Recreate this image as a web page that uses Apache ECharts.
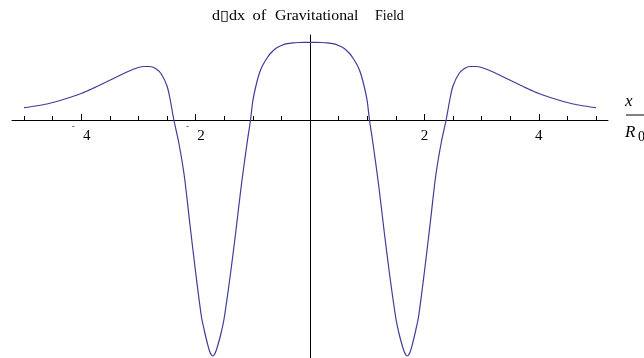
<!DOCTYPE html>
<html>
<head>
<meta charset="utf-8">
<script src="https://cdn.jsdelivr.net/npm/echarts@6/dist/echarts.min.js"></script>
<style>
  html, body { margin: 0; padding: 0; background: #ffffff; }
  #chart { width: 644px; height: 358px; }
</style>
</head>
<body>
<div id="chart"></div>
<script>
// Position x / R0 sampled across the plotted range
const xValues = [
  -5.0, -4.8, -4.6, -4.4, -4.2, -4.0, -3.8, -3.6, -3.4, -3.2, -3.0, -2.9, -2.8, -2.7, -2.6, -2.5, -2.45, -2.38,
  -2.3, -2.2, -2.1, -2.0, -1.9, -1.85, -1.8, -1.75, -1.7, -1.65, -1.6, -1.55, -1.5, -1.4, -1.3, -1.2, -1.1, -1.04,
  -1.0, -0.95, -0.9, -0.85, -0.8, -0.75, -0.7, -0.6, -0.5, -0.4, -0.3, -0.2, -0.1,
  0.0,
  0.1, 0.2, 0.3, 0.4, 0.5, 0.6, 0.7, 0.75, 0.8, 0.85, 0.9, 0.95, 1.0,
  1.04, 1.1, 1.2, 1.3, 1.4, 1.5, 1.55, 1.6, 1.65, 1.7, 1.75, 1.8, 1.85, 1.9, 2.0, 2.1, 2.2, 2.3,
  2.38, 2.45, 2.5, 2.6, 2.7, 2.8, 2.9, 3.0, 3.2, 3.4, 3.6, 3.8, 4.0, 4.2, 4.4, 4.6, 4.8, 5.0
];

// d/dx of the field at each position
const yValues = [
  0.123, 0.14, 0.16, 0.19, 0.225, 0.265, 0.315, 0.37, 0.425, 0.48, 0.525, 0.535, 0.535, 0.515, 0.46, 0.34, 0.22, 0.0,
  -0.21, -0.55, -1.04, -1.52, -1.96, -2.10, -2.22, -2.32, -2.36, -2.32, -2.23, -2.12, -1.98, -1.58, -1.13, -0.65, -0.23, 0.0,
  0.19, 0.33, 0.44, 0.52, 0.575, 0.62, 0.66, 0.715, 0.745, 0.763, 0.771, 0.775, 0.776,
  0.776,
  0.776, 0.775, 0.771, 0.763, 0.745, 0.715, 0.66, 0.62, 0.575, 0.52, 0.44, 0.33, 0.19,
  0.0, -0.23, -0.65, -1.13, -1.58, -1.98, -2.12, -2.23, -2.32, -2.36, -2.32, -2.22, -2.10, -1.96, -1.52, -1.04, -0.55, -0.21,
  0.0, 0.22, 0.34, 0.46, 0.515, 0.535, 0.535, 0.525, 0.48, 0.425, 0.37, 0.315, 0.265, 0.225, 0.19, 0.16, 0.14, 0.123
];

// Labelled (long) ticks and the short half-step ticks
const labelTicks = [-4, -2, 2, 4];
const minorTicks = [-5, -4.5, -3.5, -3, -2.5, -1.5, -1, -0.5, 0.5, 1, 1.5, 2.5, 3, 3.5, 4.5, 5];

// Title words
const titleWords = ['d\u25AFdx', 'of', 'Gravitational', 'Field'];

const serif = '"Liberation Serif", "DejaVu Serif", serif';
const curveColor = '#3d3d99';
const axisBlack = { color: '#000', width: 1 };

const W = 644, H = 358;
const xRange = { min: -5.21, max: 5.21 };
const yRange = { min: -2.38, max: 0.85 };
const plot = { left: 12, right: 36, top: 35, bottom: 0 };

// Pixel row of y = 0 inside the plot, so the tick-label strip can sit right under the axis
const plotHeight = H - plot.top - plot.bottom;
const zeroRow = plot.top + plotHeight * yRange.max / (yRange.max - yRange.min);

const points = xValues.map((x, i) => [x, yValues[i]]);

const chart = echarts.init(document.getElementById('chart'), null, { renderer: 'canvas' });

const plotGrid = Object.assign({ outerBoundsMode: 'none' }, plot);
const labelGrid = { left: plot.left, right: plot.right, top: plot.top, bottom: H - zeroRow, outerBoundsMode: 'none' };

const hiddenY = (gridIndex, range) => ({
  type: 'value', gridIndex, min: range.min, max: range.max,
  axisLine: { show: false, onZero: true }, axisTick: { show: false },
  axisLabel: { show: false }, splitLine: { show: false }
});

chart.setOption({
  animation: false,
  backgroundColor: '#ffffff',
  grid: [plotGrid, Object.assign({}, plotGrid), labelGrid],
  xAxis: [
    {
      // axis line with the long ticks, drawn through y = 0
      type: 'value', gridIndex: 0, position: 'bottom',
      min: xRange.min, max: xRange.max,
      axisLine: { show: true, onZero: true, lineStyle: axisBlack },
      axisTick: { show: true, inside: true, length: 6, customValues: labelTicks, lineStyle: axisBlack },
      axisLabel: { show: false },
      splitLine: { show: false }
    },
    {
      // short half-step ticks
      type: 'value', gridIndex: 1, position: 'bottom',
      min: xRange.min, max: xRange.max,
      axisLine: { show: false, onZero: true },
      axisTick: { show: true, inside: true, length: 4, customValues: minorTicks, lineStyle: axisBlack },
      axisLabel: { show: false },
      splitLine: { show: false }
    },
    {
      // tick labels just below the axis
      type: 'value', gridIndex: 2, position: 'bottom',
      min: xRange.min, max: xRange.max,
      axisLine: { show: false, onZero: false },
      axisTick: { show: false },
      axisLabel: {
        show: true,
        customValues: labelTicks,
        margin: 3,
        formatter: v => (v < 0 ? '{m|-}{d|' + Math.abs(v) + '}' : '{d|' + v + '}'),
        rich: {
          d: { fontFamily: serif, fontSize: 15, color: '#000', lineHeight: 26 },
          m: { fontFamily: serif, fontSize: 8, color: '#000', lineHeight: 6, width: 11, align: 'left', verticalAlign: 'top' }
        }
      },
      splitLine: { show: false }
    }
  ],
  yAxis: [
    {
      type: 'value', gridIndex: 0,
      min: yRange.min, max: yRange.max,
      axisLine: { show: true, onZero: true, lineStyle: axisBlack },
      axisTick: { show: false },
      axisLabel: { show: false },
      splitLine: { show: false }
    },
    hiddenY(1, yRange),
    hiddenY(2, { min: 0, max: 1 })
  ],
  series: [{
    type: 'line',
    xAxisIndex: 0, yAxisIndex: 0,
    data: points,
    smooth: 0.3,
    showSymbol: false,
    lineStyle: { color: curveColor, width: 1.2 }
  }],
  graphic: [
    {
      type: 'group',
      left: 212, top: 9,
      children: [
        { type: 'text', x: 0, y: 0, scaleX: 1.15, style: { text: titleWords[0], font: '14px ' + serif, fill: '#000' } },
        { type: 'text', x: 40.5, y: 0, scaleX: 1.18, style: { text: titleWords[1], font: '14px ' + serif, fill: '#000' } },
        { type: 'text', x: 63, y: 0, scaleX: 1.13, style: { text: titleWords[2], font: '14px ' + serif, fill: '#000' } },
        { type: 'text', x: 163, y: 0, scaleX: 1.0, style: { text: titleWords[3], font: '14px ' + serif, fill: '#000' } }
      ]
    },
    {
      type: 'group',
      left: 625, top: 93,
      children: [
        { type: 'text', x: 0, y: 0, style: { text: 'x', font: 'italic 17px ' + serif, fill: '#000' } },
        { type: 'rect', shape: { x: 1, y: 21.5, width: 22, height: 1 }, style: { fill: '#000' } },
        { type: 'text', x: 0, y: 31, style: { text: 'R', font: 'italic 17px ' + serif, fill: '#000' } },
        { type: 'text', x: 13, y: 37, style: { text: '0', font: '14px ' + serif, fill: '#000' } }
      ]
    }
  ]
});
</script>
</body>
</html>
